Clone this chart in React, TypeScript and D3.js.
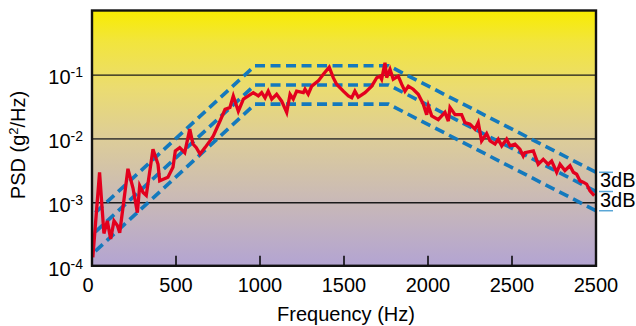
import * as d3 from "d3";

// measured PSD trace (Hz, g^2/Hz)
const freqs = [
  5, 45, 71, 91, 111, 131, 151, 165, 214, 244, 270, 284, 304, 323, 363, 393, 403, 452, 482, 496,
  522, 552, 582, 601, 621, 643, 673, 702, 722, 762, 792, 821, 841, 871, 901, 960, 990, 1010, 1030, 1049,
  1070, 1099, 1129, 1159, 1179, 1198, 1218, 1258, 1268, 1287, 1308, 1347, 1377, 1412, 1436, 1456, 1496, 1526, 1546, 1565,
  1585, 1625, 1665, 1695, 1714, 1724, 1744, 1754, 1774, 1793, 1823, 1843, 1863, 1883, 1912, 1942, 1972, 1992, 2002, 2022,
  2061, 2101, 2121, 2131, 2161, 2200, 2220, 2250, 2280, 2299, 2319, 2349, 2369, 2399, 2418, 2439, 2468, 2488, 2518, 2547,
  2567, 2577, 2627, 2656, 2686, 2716, 2736, 2766, 2786, 2815, 2845, 2865, 2885, 2905, 2924, 2944, 2964, 2990,
];
const psd = [
  1.4e-4, 3.0e-3, 3.3e-4, 5.2e-4, 2.7e-4, 5.2e-4, 4.4e-4, 3.4e-4, 3.4e-3, 1.7e-3, 7.0e-4, 1.85e-3, 1.45e-3, 1.3e-3, 6.9e-3, 4.0e-3, 2.2e-3, 2.5e-3, 3.6e-3, 6.5e-3,
  7.3e-3, 6.1e-3, 1.42e-2, 8.3e-3, 7.3e-3, 5.8e-3, 7.3e-3, 9.3e-3, 1.11e-2, 1.91e-2, 2.9e-2, 3.1e-2, 4.7e-2, 2.7e-2, 4.2e-2, 5.3e-2, 4.7e-2, 5.3e-2, 4.4e-2, 5.6e-2,
  4.2e-2, 5.0e-2, 3.9e-2, 2.6e-2, 5.0e-2, 4.2e-2, 5.6e-2, 5.3e-2, 6.0e-2, 5.0e-2, 6.7e-2, 8.1e-2, 0.103, 0.133, 9.1e-2, 7.2e-2, 5.6e-2, 4.7e-2, 4.4e-2, 5.6e-2,
  4.5e-2, 5.3e-2, 6.7e-2, 9.1e-2, 9.6e-2, 8.6e-2, 0.156, 9.1e-2, 0.123, 8.6e-2, 9.6e-2, 7.2e-2, 5.6e-2, 6.7e-2, 6.0e-2, 5.0e-2, 3.5e-2, 2.4e-2, 3.3e-2, 2.3e-2,
  2.0e-2, 2.6e-2, 1.9e-2, 3.1e-2, 2.4e-2, 2.4e-2, 1.8e-2, 1.7e-2, 1.42e-2, 1.8e-2, 9.3e-3, 1.21e-2, 9.3e-3, 8.3e-3, 9.9e-3, 7.8e-3, 9.9e-3, 7.8e-3, 8.3e-3, 6.9e-3,
  5.4e-3, 6.1e-3, 6.5e-3, 4.0e-3, 4.8e-3, 4.0e-3, 4.5e-3, 3.0e-3, 4.0e-3, 3.2e-3, 3.8e-3, 3.0e-3, 2.8e-3, 2.2e-3, 2.1e-3, 1.96e-3, 1.54e-3, 1.29e-3,
];

// test profile with +/-3dB tolerance bands
const profileFreqs = [20, 970, 1765, 3000];
const profileUpper = [7e-4, 0.14, 0.14, 3.0e-3];
const profileNominal = [3.5e-4, 0.07, 0.07, 1.5e-3];
const profileLower = [1.75e-4, 0.035, 0.035, 7.5e-4];

const xTicks = [0, 500, 1000, 1500, 2000, 2500, 3000];
const xTickLabels = ["0", "500", "1000", "1500", "2000", "2500", "2500"];
const yTicks = [1e-4, 1e-3, 1e-2, 1e-1];
const yTickExps = ["-4", "-3", "-2", "-1"];

const W = 636;
const H = 326;
const left = 92, right = 596, top = 10.5, bottom = 265.8;
const FONT = "'Liberation Sans', Arial, Helvetica, sans-serif";

export default function App() {
  const x = d3.scaleLinear().domain([0, 3000]).range([left, right]);
  const y = d3.scaleLog().domain([1e-4, 1]).range([266.6, 11.2]);

  const line = d3.line<[number, number]>()
    .x(d => x(d[0]))
    .y(d => y(d[1]));

  const trace = line(freqs.map((f, i) => [f, psd[i]]));
  const bands = [profileUpper, profileNominal, profileLower].map(vals =>
    line(profileFreqs.map((f, i) => [f, vals[i]]))
  );
  const bandEnds = [profileUpper, profileNominal, profileLower].map(v => y(v[v.length - 1]));

  return (
    <svg width={W} height={H} style={{ position: "absolute", left: 0, top: 0, fontFamily: FONT }}>
      <defs>
        <linearGradient id="bg" x1="0" y1="0" x2="0" y2="1">
          <stop offset="0" stopColor="#f8ec00" />
          <stop offset="0.12" stopColor="#f2e53c" />
          <stop offset="0.3" stopColor="#ebdc70" />
          <stop offset="0.5" stopColor="#ddcd98" />
          <stop offset="0.72" stopColor="#cbbbb4" />
          <stop offset="1" stopColor="#b3a4d2" />
        </linearGradient>
        <clipPath id="plot">
          <rect x={left} y={top} width={right - left} height={bottom - top} />
        </clipPath>
      </defs>

      <rect x={left} y={top} width={right - left} height={bottom - top} fill="url(#bg)" />

      {/* gridlines, the 10^-2 one is a bit heavier and greyer */}
      {yTicks.slice(1).map(t => (
        <line key={t} x1={left} x2={right} y1={y(t)} y2={y(t)}
          stroke={t === 1e-2 ? "#4d4a40" : "#1a1a1a"} strokeWidth={t === 1e-2 ? 1.8 : 1.3} />
      ))}

      {/* inner x ticks */}
      {xTicks.slice(1, -1).map(t => (
        <line key={t} x1={x(t)} x2={x(t)} y1={bottom} y2={bottom - 10} stroke="#000" strokeWidth={1.5} />
      ))}

      <g clipPath="url(#plot)">
        {bands.map((d, i) => (
          <path key={i} d={d || ""} fill="none" stroke="#1479bd" strokeWidth={3.6}
            strokeDasharray="10 5.5" />
        ))}
        <path d={trace || ""} fill="none" stroke="#e3001e" strokeWidth={3.3} strokeLinejoin="miter" />
      </g>

      <rect x={left} y={top} width={right - left} height={bottom - top} fill="none" stroke="#111" strokeWidth={2.4} />

      {/* 3dB brackets */}
      {bandEnds.map((yy, i) => (
        <line key={i} x1={right + 3} x2={right + 17} y1={yy} y2={yy} stroke="#5aa6d6" strokeWidth={1.5} />
      ))}
      <text x={600} y={187} fontSize={20} fill="#000">3dB</text>
      <text x={600} y={207} fontSize={20} fill="#000">3dB</text>

      {/* y tick labels */}
      {yTicks.map((t, i) => (
        <text key={t} x={83} y={y(t) + 9} fontSize={20} textAnchor="end" fill="#000">
          10<tspan fontSize={14} dy={-7}>{yTickExps[i]}</tspan>
        </text>
      ))}

      {/* x tick labels */}
      {xTicks.map((t, i) => (
        <text key={t} x={x(t) - (i === 0 ? 4 : 0)} y={292} fontSize={20} textAnchor="middle" fill="#000">
          {xTickLabels[i]}
        </text>
      ))}

      <text x={346} y={321} fontSize={20} textAnchor="middle" fill="#000">Frequency (Hz)</text>
      <text transform="translate(25,145) rotate(-90)" fontSize={20} textAnchor="middle" fill="#000">
        PSD (g<tspan fontSize={13} dy={-7}>2</tspan><tspan dy={7}>/Hz)</tspan>
      </text>
    </svg>
  );
}
